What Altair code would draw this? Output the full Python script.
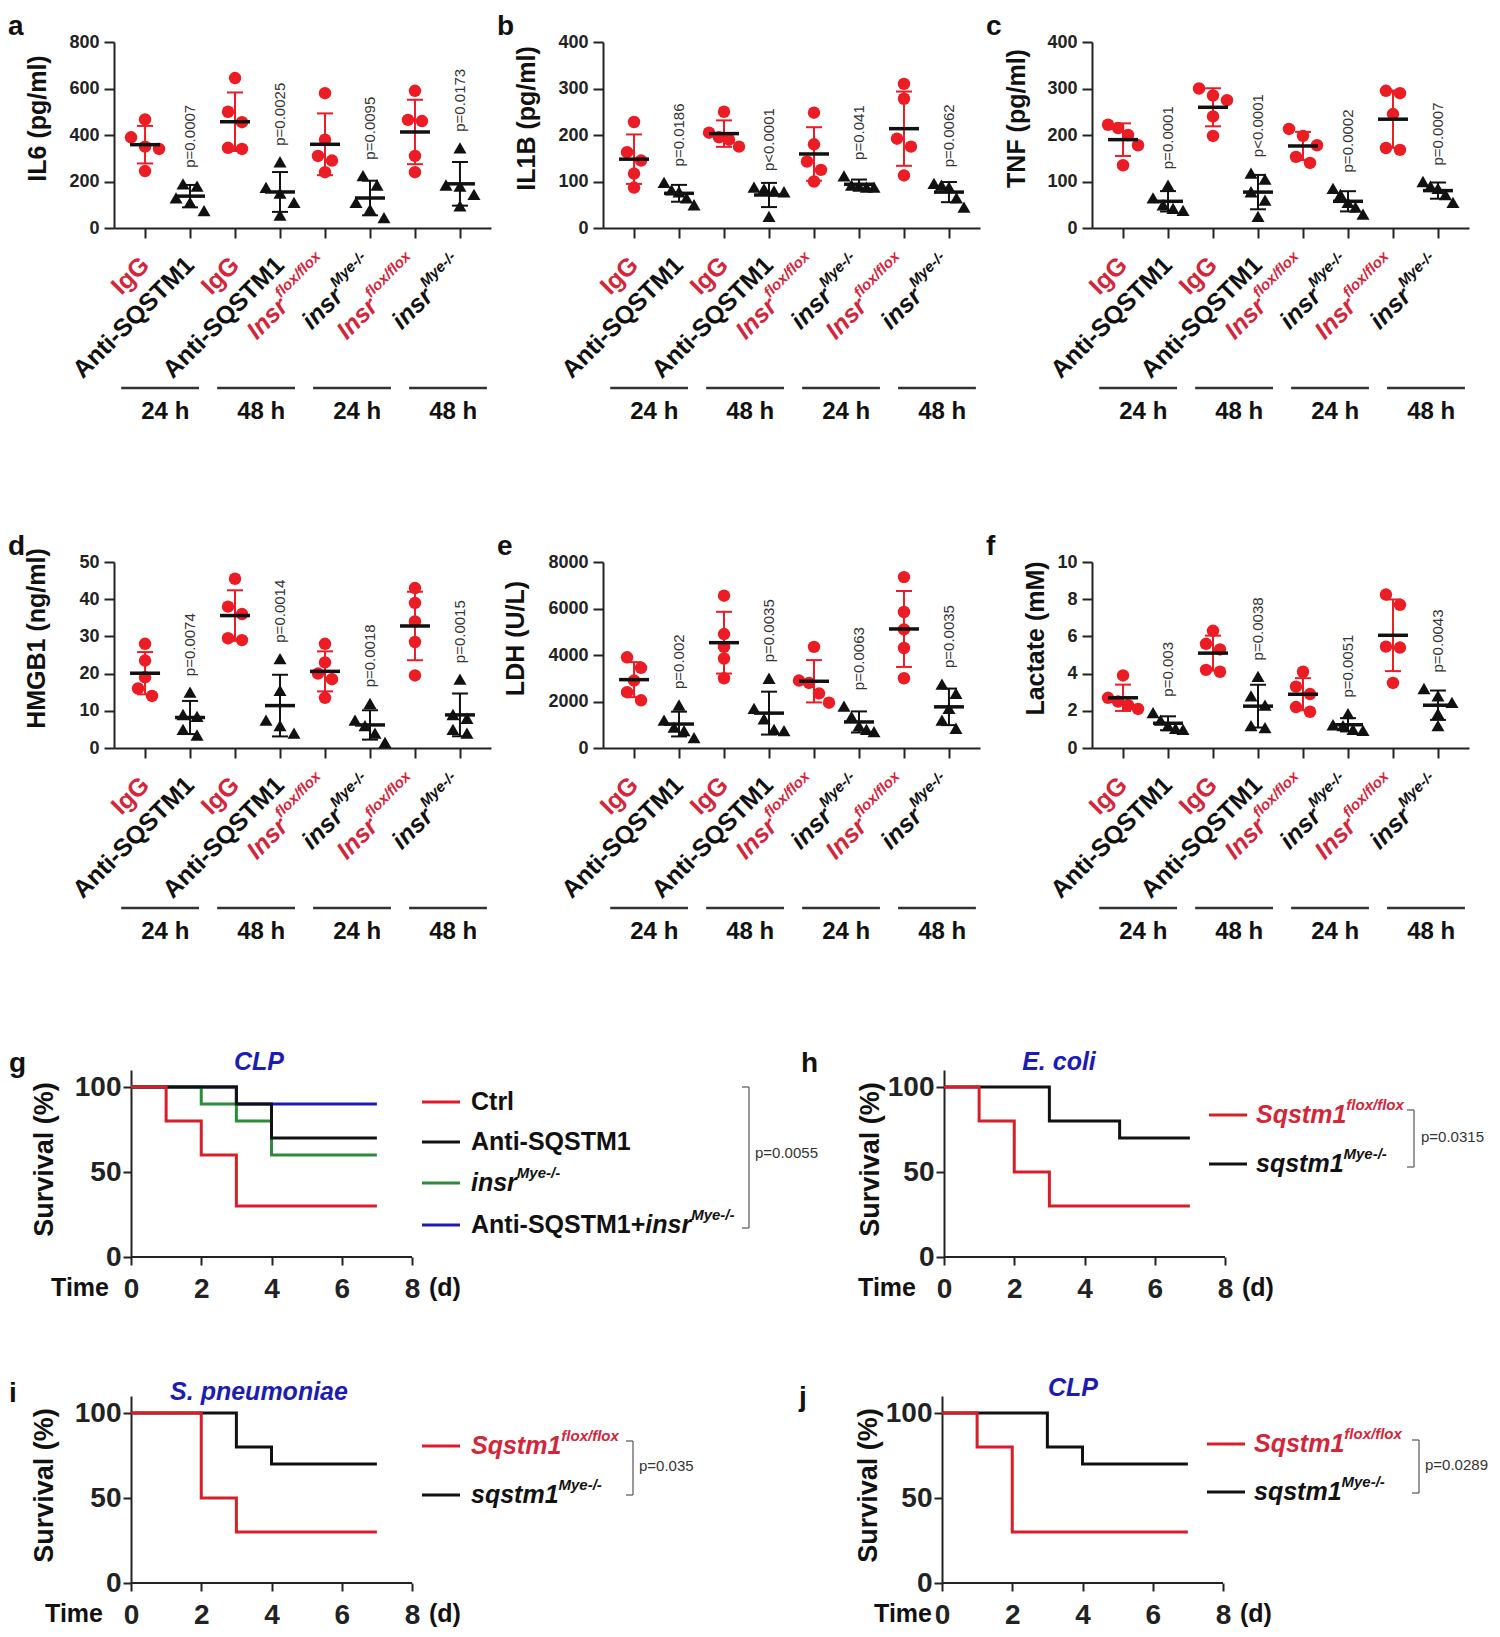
import altair as alt
import pandas as pd

FONT = "Liberation Sans"
RED_DOT = "#ec1c24"
RED_TXT = "#d3263a"
RED_LINE = "#d81e28"
BLACK = "#111111"
GREEN = "#2e8b3a"
BLUE = "#1c1cb4"
AXC = "#222222"

# ---------------- data: dot plots (5 values per group, 8 groups) ----------------
IL6 = [[467, 390, 350, 340, 245], [190, 180, 130, 110, 75], [645, 500, 455, 345, 340], [285, 175, 150, 110, 55],
       [580, 380, 310, 290, 240], [225, 185, 110, 80, 45], [590, 465, 460, 310, 240], [345, 185, 180, 145, 95]]
IL1B = [[228, 163, 145, 117, 87], [98, 82, 78, 65, 50], [250, 205, 195, 190, 175], [88, 84, 80, 78, 25],
        [248, 180, 143, 125, 100], [112, 92, 90, 88, 88], [310, 278, 192, 175, 113], [96, 92, 88, 65, 45]]
TNF = [[222, 215, 200, 178, 135], [92, 65, 50, 42, 38], [300, 285, 275, 240, 198], [118, 105, 78, 60, 25],
       [213, 198, 178, 153, 140], [85, 72, 55, 45, 30], [295, 290, 245, 172, 168], [100, 90, 85, 72, 55]]
HMGB1 = [[28, 23.5, 19, 16, 14], [15, 9, 8.5, 5, 3.5], [45.5, 38, 36, 29.5, 29], [24, 15.5, 7.5, 6, 4],
         [28, 23, 20, 18.5, 13.5], [12, 7.5, 6, 4, 1.5], [43, 39, 34, 28.5, 19.5], [18.5, 9, 8, 5, 4]]
LDH = [[3900, 3450, 2900, 2400, 2050], [1850, 1200, 900, 750, 450], [6550, 4900, 4350, 3850, 3000],
       [3000, 1700, 1250, 800, 750], [4350, 2900, 2800, 2350, 1950], [1800, 1350, 950, 800, 700],
       [7350, 5850, 5100, 4300, 3000], [2750, 2350, 1700, 1200, 850]]
LACTATE = [[3.9, 2.7, 2.5, 2.3, 2.1], [1.9, 1.5, 1.2, 1.05, 1.0], [6.3, 5.6, 5.3, 4.2, 4.1], [3.85, 2.8, 2.3, 1.2, 1.1],
           [4.1, 3.3, 2.9, 2.2, 1.95], [1.85, 1.25, 1.2, 1.0, 0.95], [8.25, 7.7, 5.45, 5.4, 3.5], [3.2, 2.8, 2.45, 1.85, 1.2]]

P_A = ["p=0.0007", "p=0.0025", "p=0.0095", "p=0.0173"]
P_B = ["p=0.0186", "p<0.0001", "p=0.041", "p=0.0062"]
P_C = ["p=0.0001", "p<0.0001", "p=0.0002", "p=0.0007"]
P_D = ["p=0.0074", "p=0.0014", "p=0.0018", "p=0.0015"]
P_E = ["p=0.002", "p=0.0035", "p=0.0063", "p=0.0035"]
P_F = ["p=0.003", "p=0.0038", "p=0.0051", "p=0.0043"]

CATS = ["IgG", "Anti-SQSTM1", "IgG", "Anti-SQSTM1", "Insr", "insr", "Insr", "insr"]
SUPS = ["", "", "", "", "flox/flox", "Mye-/-", "flox/flox", "Mye-/-"]
GROUPS = ["24 h", "48 h", "24 h", "48 h"]

# ---------------- data: survival curves ----------------
G_CTRL_T, G_CTRL_S = [0, 1, 2, 3, 7], [100, 80, 60, 30, 30]
G_ANTI_T, G_ANTI_S = [0, 3, 4, 7], [100, 90, 70, 70]
G_INSR_T, G_INSR_S = [0, 2, 3, 4, 7], [100, 90, 80, 60, 60]
G_COMB_T, G_COMB_S = [0, 3, 7], [100, 90, 90]
H_FLOX_T, H_FLOX_S = [0, 1, 2, 3, 7], [100, 80, 50, 30, 30]
H_MYE_T, H_MYE_S = [0, 3, 5, 7], [100, 80, 70, 70]
I_FLOX_T, I_FLOX_S = [0, 2, 3, 7], [100, 50, 30, 30]
I_MYE_T, I_MYE_S = [0, 3, 4, 7], [100, 80, 70, 70]
J_FLOX_T, J_FLOX_S = [0, 1, 2, 7], [100, 80, 30, 30]
J_MYE_T, J_MYE_S = [0, 3, 4, 7], [100, 80, 70, 70]

# ---------------- helpers ----------------
CW = {' ': 278, '!': 333, '%': 889, '(': 333, ')': 333, '+': 584, '-': 333, '.': 278, '/': 278, '<': 584, '=': 584,
      'A': 722, 'B': 722, 'C': 722, 'D': 722, 'E': 667, 'F': 611, 'G': 778, 'H': 722, 'I': 278, 'J': 556, 'K': 722,
      'L': 611, 'M': 833, 'N': 722, 'O': 778, 'P': 667, 'Q': 778, 'R': 722, 'S': 667, 'T': 611, 'U': 722, 'V': 667,
      'W': 944, 'X': 667, 'Y': 667, 'Z': 611, 'a': 556, 'b': 611, 'c': 556, 'd': 611, 'e': 556, 'f': 333, 'g': 611,
      'h': 611, 'i': 278, 'j': 278, 'k': 556, 'l': 278, 'm': 889, 'n': 611, 'o': 611, 'p': 611, 'q': 611, 'r': 389,
      's': 556, 't': 333, 'u': 611, 'v': 556, 'w': 778, 'x': 556, 'y': 556, 'z': 500}


def tw(s, size):
    return sum(CW.get(ch, 556) for ch in s) / 1000.0 * size


ONE = pd.DataFrame({"k": [0]})


def txt(text, x, y, size, color=BLACK, italic=False, bold=True, align="left", baseline="middle", dy=0):
    props = dict(text=text, fontSize=size, font=FONT, fontWeight="bold" if bold else "normal",
                 fontStyle="italic" if italic else "normal", color=color, align=align, baseline=baseline)
    if dy:
        props["dy"] = dy
    return alt.Chart(ONE).mark_text(**props).encode(x=alt.value(x), y=alt.value(y))


def hrule(x1, x2, y, color, width):
    return alt.Chart(ONE).mark_rule(color=color, strokeWidth=width).encode(
        x=alt.value(x1), x2=alt.value(x2), y=alt.value(y))


def vrule(x, y1, y2, color, width):
    return alt.Chart(ONE).mark_rule(color=color, strokeWidth=width).encode(
        x=alt.value(x), y=alt.value(y1), y2=alt.value(y2))


def swarm(vals, ppu, thr=11.0, step=14.0):
    order = sorted(range(len(vals)), key=lambda k: -vals[k])
    rows, cur, last = [], [], None
    for k in order:
        y = vals[k] * ppu
        if last is not None and last - y < thr:
            cur.append(k)
        else:
            if cur:
                rows.append(cur)
            cur = [k]
        last = y
    rows.append(cur)
    offs = [0.0] * len(vals)
    for r in rows:
        m = len(r)
        st = step if m <= 2 else min(step, 30.0 / (m - 1))
        for j, k in enumerate(r):
            offs[k] = (j - (m - 1) / 2.0) * st
    return offs


# ---------------- dot panels ----------------
DW, DH = 377, 186
XDOM = [-0.69, 7.69]
PPI = DW / (XDOM[1] - XDOM[0])


def dot_panel(groups, ymax, ystep, ytitle, tx, pvals, letter):
    ppu = DH / ymax
    rows = []
    for i, vals in enumerate(groups):
        offs = swarm(vals, ppu)
        for v, o in zip(vals, offs):
            rows.append({"idx": i, "xj": i + o / PPI, "val": v, "kind": "red" if i % 2 == 0 else "black"})
    df = pd.DataFrame(rows)
    xs = alt.Scale(domain=XDOM, nice=False, zero=False)
    ys = alt.Scale(domain=[0, ymax], nice=False, zero=True)
    xax = alt.Axis(values=list(range(8)), labels=False, title=None, ticks=True, tickSize=10, tickWidth=2,
                   tickColor=AXC, domainColor=AXC, domainWidth=2, grid=False)
    yvals = [ystep * k for k in range(int(round(ymax / ystep)) + 1)]
    yax = alt.Axis(values=yvals, format="d", title=ytitle, titleX=tx, titleY=76, titleFontSize=25,
                   titleFontWeight="bold", titleFont=FONT, titleColor=BLACK, labelFont=FONT, labelFontSize=18,
                   labelFontWeight="bold", labelColor=AXC, labelPadding=5, tickSize=10, tickWidth=2,
                   tickColor=AXC, domainColor=AXC, domainWidth=2, grid=False)

    def X(f):
        return alt.X(f, scale=xs, axis=xax)

    def Y(f):
        return alt.Y(f, scale=ys, axis=yax)

    layers = []
    for kind, col, shape in [("red", RED_DOT, "circle"), ("black", BLACK, "triangle-up")]:
        sub = df[df.kind == kind]
        stats = alt.Chart(sub).transform_aggregate(
            m="mean(val)", sd="stdev(val)", groupby=["idx"]
        ).transform_calculate(lo="datum.m - datum.sd", hi="datum.m + datum.sd")
        layers.append(stats.mark_rule(color=col, strokeWidth=2).encode(x=X("idx:Q"), y=Y("lo:Q"), y2="hi:Q"))
        layers.append(stats.mark_rule(color=col, strokeWidth=2, xOffset=-8, x2Offset=8).encode(
            x=X("idx:Q"), x2="idx:Q", y=Y("lo:Q")))
        layers.append(stats.mark_rule(color=col, strokeWidth=2, xOffset=-8, x2Offset=8).encode(
            x=X("idx:Q"), x2="idx:Q", y=Y("hi:Q")))
        layers.append(alt.Chart(sub).mark_point(filled=True, shape=shape, size=155 if shape == "circle" else 170,
                                                color=col, opacity=1).encode(x=X("xj:Q"), y=Y("val:Q")))
    means = alt.Chart(df).transform_aggregate(m="mean(val)", groupby=["idx"])
    layers.append(means.mark_rule(color=BLACK, strokeWidth=3.5, xOffset=-15, x2Offset=15).encode(
        x=X("idx:Q"), x2="idx:Q", y=Y("m:Q")))

    pdf = pd.DataFrame({"idx": [1, 3, 5, 7], "top": [max(groups[i]) for i in [1, 3, 5, 7]], "txt": pvals})
    layers.append(alt.Chart(pdf).mark_text(angle=270, align="left", baseline="middle", dx=16, fontSize=15,
                                           font=FONT, color="#333333").encode(
        x=X("idx:Q"), y=Y("top:Q"), text="txt:N"))

    ldf = pd.DataFrame({"idx": list(range(8)), "lab": CATS, "sup": SUPS})
    ly = DH + 33
    lab_specs = [
        ([0, 2], RED_TXT, "normal", 0),
        ([1, 3], BLACK, "normal", 0),
        ([4, 6], RED_TXT, "italic", -tw("flox/flox", 15) - 1),
        ([5, 7], BLACK, "italic", -tw("Mye-/-", 15) - 1),
    ]
    for ids, col, style, dx in lab_specs:
        props = dict(angle=315, align="right", baseline="middle", fontSize=25, fontWeight="bold",
                     fontStyle=style, font=FONT, color=col)
        if dx:
            props["dx"] = dx
        layers.append(alt.Chart(ldf[ldf.idx.isin(ids)]).mark_text(**props).encode(
            x=X("idx:Q"), y=alt.value(ly), text="lab:N"))
    for ids, col in [([4, 6], RED_TXT), ([5, 7], BLACK)]:
        layers.append(alt.Chart(ldf[ldf.idx.isin(ids)]).mark_text(
            angle=315, align="right", baseline="middle", fontSize=15, fontWeight="bold", fontStyle="italic",
            font=FONT, color=col, dy=-10).encode(x=X("idx:Q"), y=alt.value(ly), text="sup:N"))

    gdf = pd.DataFrame({"g": list(range(4)), "lab": GROUPS})
    gdf["x1"] = gdf.g * 2.133 - 0.53
    gdf["x2"] = gdf.g * 2.133 + 1.2
    gdf["xc"] = gdf.g * 2.133 + 0.45
    layers.append(alt.Chart(gdf).mark_rule(color="#333333", strokeWidth=2.5).encode(
        x=X("x1:Q"), x2="x2:Q", y=alt.value(DH + 160)))
    layers.append(alt.Chart(gdf).mark_text(fontSize=24, fontWeight="bold", font=FONT, color=BLACK,
                                           align="center", baseline="middle").encode(
        x=X("xc:Q"), y=alt.value(DH + 184), text="lab:N"))
    layers.append(txt(letter, -106, -7, 28, BLACK, baseline="alphabetic"))
    return alt.layer(*layers).properties(width=DW, height=DH)


# ---------------- survival panels ----------------
SW, SH = 281, 187
OFF = 17                     # the view starts OFF px left of day 0
PPD = SW / 8.0


def surv_panel(series, title, tcx, tcy, time_r, ytx, legend, lx1, lx2, ltx, lys, br, ptxt, pt, letters):
    xs = alt.Scale(domain=[-OFF / PPD, 8], nice=False, zero=False)
    ys = alt.Scale(domain=[0, 110], nice=False, zero=True)
    xax = alt.Axis(values=[0, 2, 4, 6, 8], title=None, labelFont=FONT, labelFontSize=28, labelFontWeight="bold",
                   labelColor=AXC, labelPadding=10, tickSize=8, tickWidth=2, tickColor=AXC, domain=False,
                   grid=False, labelFlush=False)
    yax = alt.Axis(values=[0, 50, 100], title="Survival (%)", titleX=ytx, titleY=89, titleFontSize=27,
                   titleFontWeight="bold", titleFont=FONT, titleColor=BLACK, labelFont=FONT, labelFontSize=28,
                   labelFontWeight="bold", labelColor=AXC, labelPadding=2, tickSize=8, tickWidth=2, tickColor=AXC,
                   domainColor=AXC, domainWidth=2, grid=False, labelFlush=False, offset=-OFF)
    layers = []
    base = pd.DataFrame({"t0": [0], "t1": [8], "s0": [0]})
    layers.append(alt.Chart(base).mark_rule(color=AXC, strokeWidth=2).encode(
        x=alt.X("t0:Q", scale=xs, axis=xax), x2="t1:Q", y=alt.Y("s0:Q", scale=ys, axis=yax)))
    for T, S, col in series:
        layers.append(alt.Chart(pd.DataFrame({"t": T, "s": S})).mark_line(
            interpolate="step-after", strokeWidth=3, color=col).encode(
            x=alt.X("t:Q", scale=xs, axis=xax), y=alt.Y("s:Q", scale=ys, axis=yax)))
    layers.append(txt(title, tcx + OFF, tcy, 25, BLUE, italic=True, align="center"))
    layers.append(txt("Time", time_r + OFF, SH + 31, 25, BLACK, align="right"))
    layers.append(txt("(d)", SW + 17 + OFF, SH + 31, 25, BLACK))
    for (col, pieces), y in zip(legend, lys):
        layers.append(hrule(lx1 + OFF, lx2 + OFF, y, col, 3))
        x = ltx + OFF
        for s, c, ital, sup in pieces:
            size = 15 if sup else 25
            layers.append(txt(s, x, y, size, c, italic=ital, dy=-10 if sup else 0))
            x += tw(s, size)
    bx, by1, by2 = br
    bx += OFF
    layers.append(vrule(bx, by1, by2, "#555555", 1.2))
    layers.append(hrule(bx - 7, bx, by1, "#555555", 1.2))
    layers.append(hrule(bx - 7, bx, by2, "#555555", 1.2))
    layers.append(txt(ptxt, pt[0] + OFF, pt[1], 15, "#333333", bold=False))
    for L, lx, lyy in letters:
        layers.append(txt(L, lx + OFF, lyy, 28, BLACK, baseline="alphabetic"))
    return alt.layer(*layers).properties(width=SW + OFF, height=SH)


a = dot_panel(IL6, 800, 200, "IL6 (pg/ml)", -64, P_A, "a")
b = dot_panel(IL1B, 400, 100, "IL1B (pg/ml)", -64, P_B, "b")
c = dot_panel(TNF, 400, 100, "TNF (pg/ml)", -63, P_C, "c")
d = dot_panel(HMGB1, 50, 10, "HMGB1 (ng/ml)", -65, P_D, "d")
e = dot_panel(LDH, 8000, 2000, "LDH (U/L)", -75, P_E, "e")
f = dot_panel(LACTATE, 10, 2, "Lactate (mM)", -44, P_F, "f")

LEG_TWO = [
    (RED_LINE, [("Sqstm1", RED_TXT, True, False), ("flox/flox", RED_TXT, True, True)]),
    (BLACK, [("sqstm1", BLACK, True, False), ("Mye-/-", BLACK, True, True)]),
]
LEG_G = [
    (RED_LINE, [("Ctrl", BLACK, False, False)]),
    (BLACK, [("Anti-SQSTM1", BLACK, False, False)]),
    (GREEN, [("insr", BLACK, True, False), ("Mye-/-", BLACK, True, True)]),
    (BLUE, [("Anti-SQSTM1+", BLACK, False, False), ("insr", BLACK, True, False), ("Mye-/-", BLACK, True, True)]),
]

g = surv_panel([(G_COMB_T, G_COMB_S, BLUE), (G_INSR_T, G_INSR_S, GREEN), (G_ANTI_T, G_ANTI_S, BLACK),
                (G_CTRL_T, G_CTRL_S, RED_LINE)],
               "CLP", 128, -8, -22, -73, LEG_G, 291, 329, 340, [32, 72, 113, 155], (618, 17, 158),
               "p=0.0055", (624, 83), [("g", -122, 2), ("h", 670, 2)])
h = surv_panel([(H_MYE_T, H_MYE_S, BLACK), (H_FLOX_T, H_FLOX_S, RED_LINE)],
               "E. coli", 115, -8, -28, -60, LEG_TWO, 265, 303, 312, [45, 94], (470, 40, 97),
               "p=0.0315", (477, 67), [])
i = surv_panel([(I_MYE_T, I_MYE_S, BLACK), (I_FLOX_T, I_FLOX_S, RED_LINE)],
               "S. pneumoniae", 128, -4, -28, -73, LEG_TWO, 291, 329, 340, [50, 99], (502, 45, 99),
               "p=0.035", (508, 70), [("i", -122, 6)])
j = surv_panel([(J_MYE_T, J_MYE_S, BLACK), (J_FLOX_T, J_FLOX_S, RED_LINE)],
               "CLP", 131, -8, -10, -60, LEG_TWO, 265, 303, 312, [48, 96], (477, 44, 97),
               "p=0.0289", (483, 69), [("j", -143, 10)])

row1 = alt.hconcat(a, b, c, spacing=6)
row2 = alt.hconcat(d, e, f, spacing=6)
top = alt.vconcat(row1, row2, spacing=109)
row3 = alt.hconcat(g, h, spacing=37)
row4 = alt.hconcat(i, j, spacing=105)
bottom = alt.vconcat(row3, row4, spacing=73)
chart = alt.concat(top, bottom, columns=1, align="none", spacing=106).properties(
    padding={"top": 5, "left": 0, "right": 0, "bottom": 0}, background="white"
).configure_view(stroke=None)

chart.save("out.html", embed_options={"renderer": "svg", "actions": False})
